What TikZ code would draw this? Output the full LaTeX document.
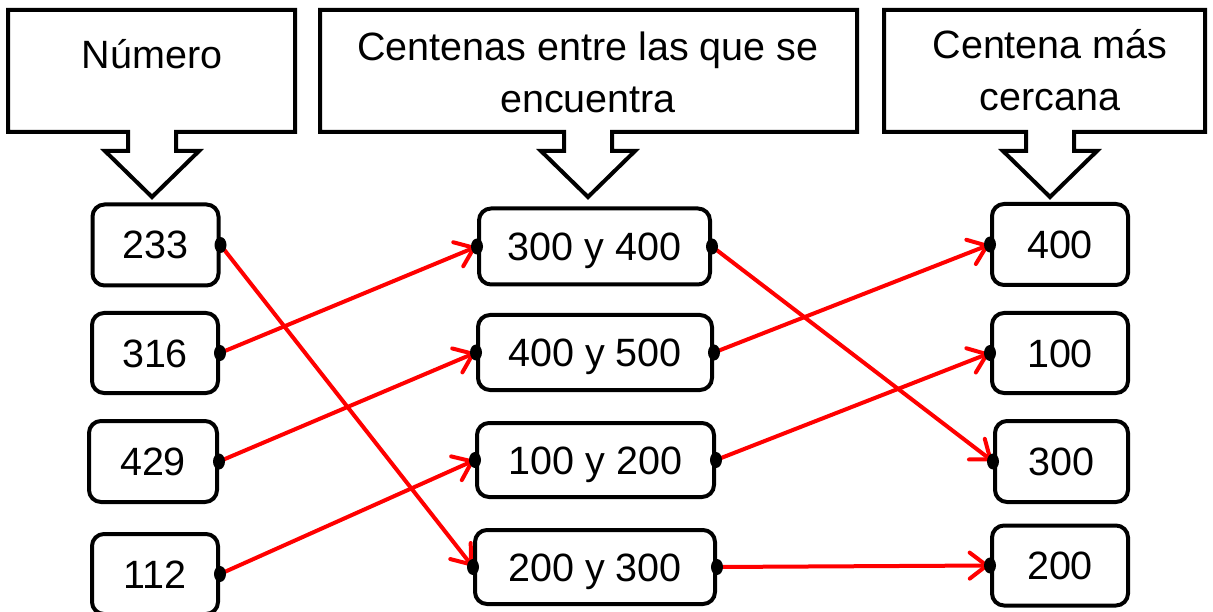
\documentclass[tikz,border=0pt]{standalone}
\usepackage{fontspec}
\setmainfont{Liberation Sans}
\usetikzlibrary{arrows.meta}
\newcommand\calloutshape[3]{%
  \draw[callout] (#1,10) -- (#2,10) -- (#2,132) -- (#3+24,132) -- (#3+24,151)
    -- (#3+47,151) -- (#3,197) -- (#3-47,151) -- (#3-24,151) -- (#3-24,132)
    -- (#1,132) -- cycle;}
\begin{document}
\begin{tikzpicture}[x=1pt,y=-1pt,
  callout/.style={draw=black, line width=4pt, line join=miter},
  hdr/.style={font=\fontsize{39.5}{52}\selectfont, inner sep=0pt, anchor=base},
  box/.style={draw=black, line width=4pt, rounded corners=12pt, inner sep=0pt,
    font=\fontsize{39.5}{44}\selectfont, text height=28pt, text depth=0pt},
  conn/.style={draw=red, line width=4pt,
    -{Straight Barb[length=17pt, width=26pt, line cap=round]}},
  blackdot/.style={fill=black}]
\useasboundingbox (0,0) rectangle (1213,612);

% headers
\calloutshape{8}{295}{152}
\calloutshape{320}{857}{588}
\calloutshape{884}{1205}{1050}
\node[hdr] (h1) at (152,69) {Número};
\node[hdr] (h2a) at (588,61) {Centenas entre las que se};
\node[hdr] (h2b) at (588,113) {encuentra};
\node[hdr] (h3a) at (1050,59) {Centena más};
\node[hdr] (h3b) at (1050,111) {cercana};

% left column
\node[box, minimum width=126pt, minimum height=81pt] (n233) at (155.5,245) {233};
\node[box, minimum width=126pt, minimum height=80pt] (n316) at (155,353) {316};
\node[box, minimum width=128pt, minimum height=81pt] (n429) at (153,461.5) {429};
\node[box, minimum width=126pt, minimum height=80pt] (n112) at (155,574) {112};

% middle column
\node[box, minimum width=231pt, minimum height=76pt] (m34) at (594.5,246.5) {300 y 400};
\node[box, minimum width=234pt, minimum height=75pt] (m45) at (595,352.5) {400 y 500};
\node[box, minimum width=237pt, minimum height=74pt] (m12) at (595.5,460) {100 y 200};
\node[box, minimum width=240pt, minimum height=74pt] (m23) at (595,567) {200 y 300};

% right column
\node[box, minimum width=136pt, minimum height=81pt] (r400) at (1060,244.5) {400};
\node[box, minimum width=136pt, minimum height=80pt] (r100) at (1060,353) {100};
\node[box, minimum width=133pt, minimum height=81pt] (r300) at (1061.5,461.5) {300};
\node[box, minimum width=136pt, minimum height=80pt] (r200) at (1060,565.5) {200};

% connectors
\draw[conn] (n233.east) -- (m23.west);
\draw[conn] (n316.east) -- (m34.west);
\draw[conn] (n429.east) -- (m45.west);
\draw[conn] (n112.east) -- (m12.west);
\draw[conn] (m34.east) -- (r300.west);
\draw[conn] (m45.east) -- (r400.west);
\draw[conn] (m12.east) -- (r100.west);
\draw[conn] (m23.east) -- (r200.west);

% dots
\foreach \n in {n233,n316,n429,n112,m34,m45,m12,m23}
  \fill[blackdot] (\n.east) ellipse [x radius=6pt, y radius=8pt];
\foreach \n in {m34,m45,m12,m23,r400,r100,r300,r200}
  \fill[blackdot] (\n.west) ellipse [x radius=6pt, y radius=8pt];
\end{tikzpicture}
\end{document}
